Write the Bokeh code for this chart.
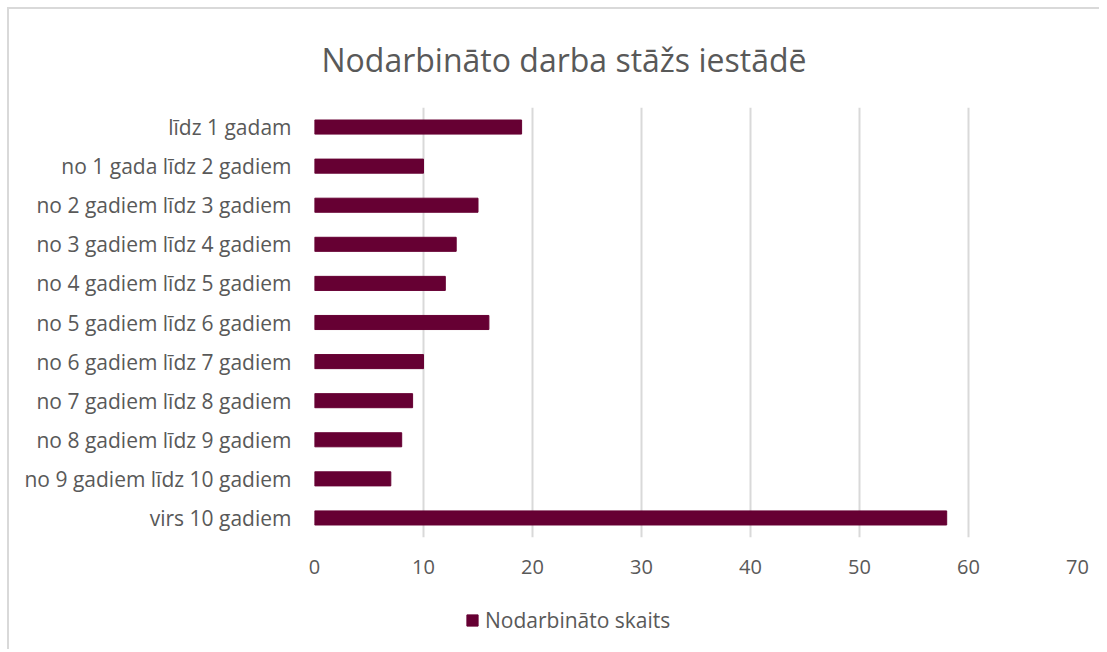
from bokeh.plotting import figure
from bokeh.layouts import column
from bokeh.models import ColumnDataSource, FactorRange, Range1d, Legend, LegendItem, FixedTicker, Title
from bokeh.embed import file_html
from bokeh.resources import INLINE

categories = [
    "līdz 1 gadam",
    "no 1 gada līdz 2 gadiem",
    "no 2 gadiem līdz 3 gadiem",
    "no 3 gadiem līdz 4 gadiem",
    "no 4 gadiem līdz 5 gadiem",
    "no 5 gadiem līdz 6 gadiem",
    "no 6 gadiem līdz 7 gadiem",
    "no 7 gadiem līdz 8 gadiem",
    "no 8 gadiem līdz 9 gadiem",
    "no 9 gadiem līdz 10 gadiem",
    "virs 10 gadiem",
]
values = [19, 10, 15, 13, 12, 16, 10, 9, 8, 7, 58]
series_name = "Nodarbināto skaits"
x_ticks = [0, 10, 20, 30, 40, 50, 60, 70]

FONT = "Open Sans"
GREY = "#595959"
BAR = "#660033"

src = ColumnDataSource(dict(cat=categories, val=values))

p = figure(
    width=1090, height=578,
    y_range=FactorRange(*list(reversed(categories))),
    x_range=Range1d(0, 70),
    output_backend="svg", toolbar_location=None,
    min_border_left=305, min_border_right=22, min_border_top=97, min_border_bottom=50,
)

r = p.hbar(y="cat", right="val", left=0, height=0.36, source=src, fill_color=BAR, line_color=BAR)

p.title = Title(text="Nodarbināto darba stāžs iestādē", align="left", offset=7,
                text_font=FONT, text_font_size="32px", text_font_style="normal",
                text_color=GREY, standoff=53)

p.outline_line_color = None
p.xaxis.ticker = FixedTicker(ticks=x_ticks)
for ax in (p.xaxis[0], p.yaxis[0]):
    ax.axis_line_color = None
    ax.major_tick_line_color = None
    ax.minor_tick_line_color = None
    ax.major_label_text_font = FONT
    ax.major_label_text_color = GREY
p.xaxis.major_label_text_font_size = "20px"
p.yaxis.major_label_text_font_size = "21px"
p.xaxis.major_label_standoff = 16
p.yaxis.major_label_standoff = 17

p.ygrid.grid_line_color = None
p.xgrid.grid_line_color = "#d9d9d9"
p.xgrid.grid_line_width = 2

# legend strip below the chart (frame is aligned with the chart frame by the column)
lg = figure(width=1090, height=62, x_range=Range1d(0, 100), y_range=Range1d(0, 100),
            output_backend="svg", toolbar_location=None,
            min_border_left=0, min_border_right=0, min_border_top=0, min_border_bottom=0)
lg.axis.visible = False
lg.grid.visible = False
lg.outline_line_color = None
lsrc = ColumnDataSource(dict(y=[-1000], val=[-1000]))
lr = lg.hbar(y="y", right="val", left=-1001, height=1, source=lsrc, fill_color=BAR, line_color=BAR)

legend = Legend(items=[LegendItem(label=series_name, renderers=[lr])],
                location=(151, 15), orientation="horizontal",
                label_text_font=FONT, label_text_font_size="21px", label_text_color=GREY,
                glyph_width=14, glyph_height=14, border_line_color=None,
                background_fill_alpha=0, padding=4, label_standoff=6, margin=0)
lg.add_layout(legend, "center")

layout = column(p, lg, spacing=0)
layout.styles = {"border-left": "2px solid #d9d9d9", "border-top": "2px solid #d9d9d9",
                 "margin-left": "7px", "margin-top": "7px"}

open("out.html", "w").write(file_html(layout, INLINE))
